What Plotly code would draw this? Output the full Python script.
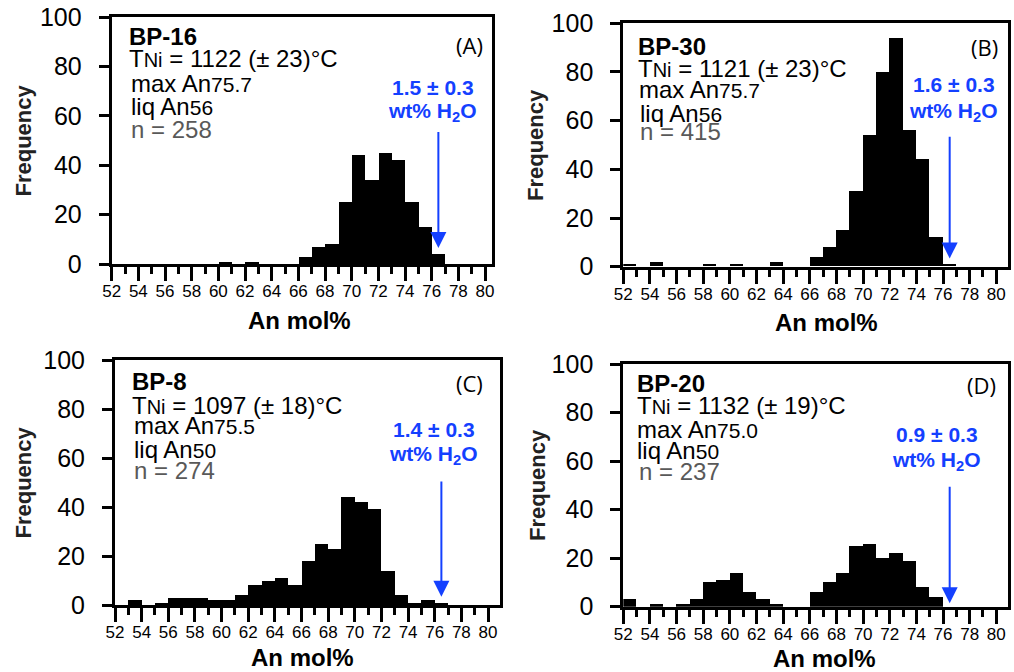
import plotly.graph_objects as go

# ---------------- data ----------------
bins = list(range(52, 81))  # An mol% bins (left edge), 52..80

#            52 53 54 55 56 57 58 59 60 61 62 63 64 65 66 67 68 69 70 71 72 73 74 75 76 77 78 79 80
counts_A = [0, 0, 0, 0, 0, 0, 0, 0, 1, 0, 1, 0, 0, 0, 3, 7, 8, 25, 44, 34, 45, 42, 25, 15, 4, 0, 0, 0, 0]
counts_B = [1, 0, 2, 0, 0, 0, 1, 0, 1, 0, 0, 2, 0, 0, 4, 8, 15, 31, 54, 80, 94, 56, 44, 12, 1, 0, 0, 0, 0]
counts_C = [0, 2, 0, 1, 3, 3, 3, 2, 2, 4, 8, 10, 11, 8, 18, 25, 23, 44, 42, 39, 14, 4, 1, 2, 1, 0, 0, 0, 0]
counts_D = [3, 0, 1, 0, 1, 3, 10, 11, 14, 6, 3, 1, 0, 0, 6, 10, 14, 25, 26, 20, 22, 19, 8, 4, 0, 0, 0, 0, 0]

samples = ["BP-16", "BP-30", "BP-8", "BP-20"]
panel_tags = ["(A)", "(B)", "(C)", "(D)"]
t_ni = ["1122", "1121", "1097", "1132"]
t_err = ["23", "23", "18", "19"]
max_an = ["75.7", "75.7", "75.5", "75.0"]
liq_an = ["56", "56", "50", "50"]
n_meas = ["258", "415", "274", "237"]
water = ["1.5 ± 0.3", "1.6 ± 0.3", "1.4 ± 0.3", "0.9 ± 0.3"]
arrow_x = [76.5, 76.5, 76.5, 76.5]
arrow_tail = [54, 54, 51, 50]
arrow_tip = [6.5, 3.4, 3.4, 1.4]

xticks = list(range(52, 81, 2))
yticks = [0, 20, 40, 60, 80, 100]

# ---------------- layout helpers ----------------
W, H = 1014, 672
BLUE = "#1440FF"
GRAY = "#595959"
FONT = "Liberation Sans, Arial, sans-serif"


def px(x):
    return x / W


def py(y):
    return 1 - y / H


# plot boxes in pixels: (left, right, top, bottom) and x upper range
boxes = [
    (111.7, 491.7, 17.0, 264.0, 80.5),
    (623.3, 1008.3, 23.3, 266.7, 80.9),
    (115.0, 500.0, 360.0, 605.0, 80.9),
    (623.3, 1008.3, 364.0, 606.7, 80.9),
]

# text layout (pixels): left x of info block, centers of the 5 lines
info_left = [
    [127.3, 127.3, 129.3, 129.3, 129.3],
    [636.0, 636.0, 636.7, 637.7, 638.3],
    [130.0, 130.0, 131.7, 131.7, 131.7],
    [635.0, 635.0, 635.0, 635.0, 636.7],
]
info_y = [
    [36.6, 58.3, 83.3, 106.6, 129.0],
    [46.6, 69.0, 90.0, 113.4, 132.0],
    [381.0, 405.7, 425.7, 450.0, 471.0],
    [383.4, 405.7, 430.0, 451.0, 471.7],
]
tag_pos = [(485, 45), (1000, 46.7), (485, 383.3), (998.3, 385)]
water_pos = [
    [(433.3, 88), (432.7, 112)],
    [(954, 84.5), (953, 112)],
    [(434.3, 430), (433.3, 455)],
    [(937.3, 434.5), (936.7, 461.5)],
]
ytitle_pos = [(23, 140.5), (535, 145), (23, 482.5), (537, 485)]
xtitle_pos = [(299, 320), (826, 322), (302, 657), (824, 658)]

fig = go.Figure()
counts_all = [counts_A, counts_B, counts_C, counts_D]
annotations = []

for i in range(4):
    xa = "x" if i == 0 else f"x{i+1}"
    ya = "y" if i == 0 else f"y{i+1}"
    fig.add_trace(go.Bar(
        x=bins, y=counts_all[i], width=1, offset=0,
        marker=dict(color="black", line=dict(width=0)),
        xaxis=xa, yaxis=ya, showlegend=False,
    ))
    l, r, t, b, xmax = boxes[i]
    axname = "xaxis" if i == 0 else f"xaxis{i+1}"
    ayname = "yaxis" if i == 0 else f"yaxis{i+1}"
    fig.layout[axname] = dict(
        domain=[px(l), px(r)], range=[52, xmax], anchor=ya, automargin=False,
        tickmode="array", tickvals=xticks, ticktext=[str(v) for v in xticks],
        ticks="outside", ticklen=14, tickwidth=2.5, tickcolor="black",
        minor=dict(dtick=1, tick0=52, ticks="outside", ticklen=7, tickwidth=2.5, tickcolor="black"),
        showline=True, linewidth=3, linecolor="black", mirror=True,
        showgrid=False, zeroline=False,
        tickfont=dict(family=FONT, size=17, color="black"),
        ticklabelstandoff=-4,
    )
    fig.layout[ayname] = dict(
        domain=[py(b), py(t)], range=[0, 100], anchor=xa, automargin=False,
        tickmode="array", tickvals=yticks, ticktext=[str(v) for v in yticks],
        ticks="outside", ticklen=10, tickwidth=2.5, tickcolor="black",
        showline=True, linewidth=3, linecolor="black", mirror=True,
        showgrid=False, zeroline=False,
        tickfont=dict(family=FONT, size=25, color="black"),
        ticklabelstandoff=12,
    )

    lines = [
        f"<b>{samples[i]}</b>",
        f"T<span style='font-size:20px'>Ni</span> = {t_ni[i]} (± {t_err[i]})°C",
        f"max An<span style='font-size:21px'>{max_an[i]}</span>",
        f"liq An<span style='font-size:21px'>{liq_an[i]}</span>",
        f"<span style='color:{GRAY}'>n = {n_meas[i]}</span>",
    ]
    for j, txt in enumerate(lines):
        annotations.append(dict(
            text=txt, xref="paper", yref="paper",
            x=px(info_left[i][j]), y=py(info_y[i][j]),
            xanchor="left", yanchor="middle", showarrow=False,
            font=dict(family=FONT, size=24, color="black"),
        ))
    tx, ty = tag_pos[i]
    annotations.append(dict(
        text=panel_tags[i], xref="paper", yref="paper", x=px(tx), y=py(ty),
        xanchor="right", yanchor="middle", showarrow=False,
        font=dict(family="Open Sans, sans-serif", size=22, color="black"),
    ))
    (wx1, wy1), (wx2, wy2) = water_pos[i]
    annotations.append(dict(
        text=f"<b>{water[i]}</b>", xref="paper", yref="paper", x=px(wx1), y=py(wy1),
        xanchor="center", yanchor="middle", showarrow=False,
        font=dict(family=FONT, size=21, color=BLUE),
    ))
    annotations.append(dict(
        text="<b>wt% H<sub>2</sub>O</b>", xref="paper", yref="paper", x=px(wx2), y=py(wy2),
        xanchor="center", yanchor="middle", showarrow=False,
        font=dict(family=FONT, size=21, color=BLUE),
    ))
    annotations.append(dict(
        text="", xref=xa, yref=ya, axref=xa, ayref=ya,
        x=arrow_x[i], y=arrow_tip[i], ax=arrow_x[i], ay=arrow_tail[i],
        showarrow=True, arrowhead=2, arrowsize=1.6, arrowwidth=2, arrowcolor=BLUE,
    ))
    yx, yy = ytitle_pos[i]
    annotations.append(dict(
        text="<b>Frequency</b>", xref="paper", yref="paper", x=px(yx), y=py(yy),
        xanchor="center", yanchor="middle", textangle=-90, showarrow=False,
        font=dict(family=FONT, size=22, color="#222222"),
    ))
    xx, xy = xtitle_pos[i]
    annotations.append(dict(
        text="<b>An mol%</b>", xref="paper", yref="paper", x=px(xx), y=py(xy),
        xanchor="center", yanchor="middle", showarrow=False,
        font=dict(family=FONT, size=24, color="black"),
    ))

fig.update_layout(
    width=W, height=H, margin=dict(l=0, r=0, t=0, b=0, autoexpand=False),
    paper_bgcolor="white", plot_bgcolor="white",
    bargap=0, annotations=annotations,
    font=dict(family=FONT, color="black"),
)

fig.write_html(
    "out.html",
    config={"displayModeBar": False},
    post_script="document.body.style.margin='0';document.body.style.overflow='hidden';",
)
